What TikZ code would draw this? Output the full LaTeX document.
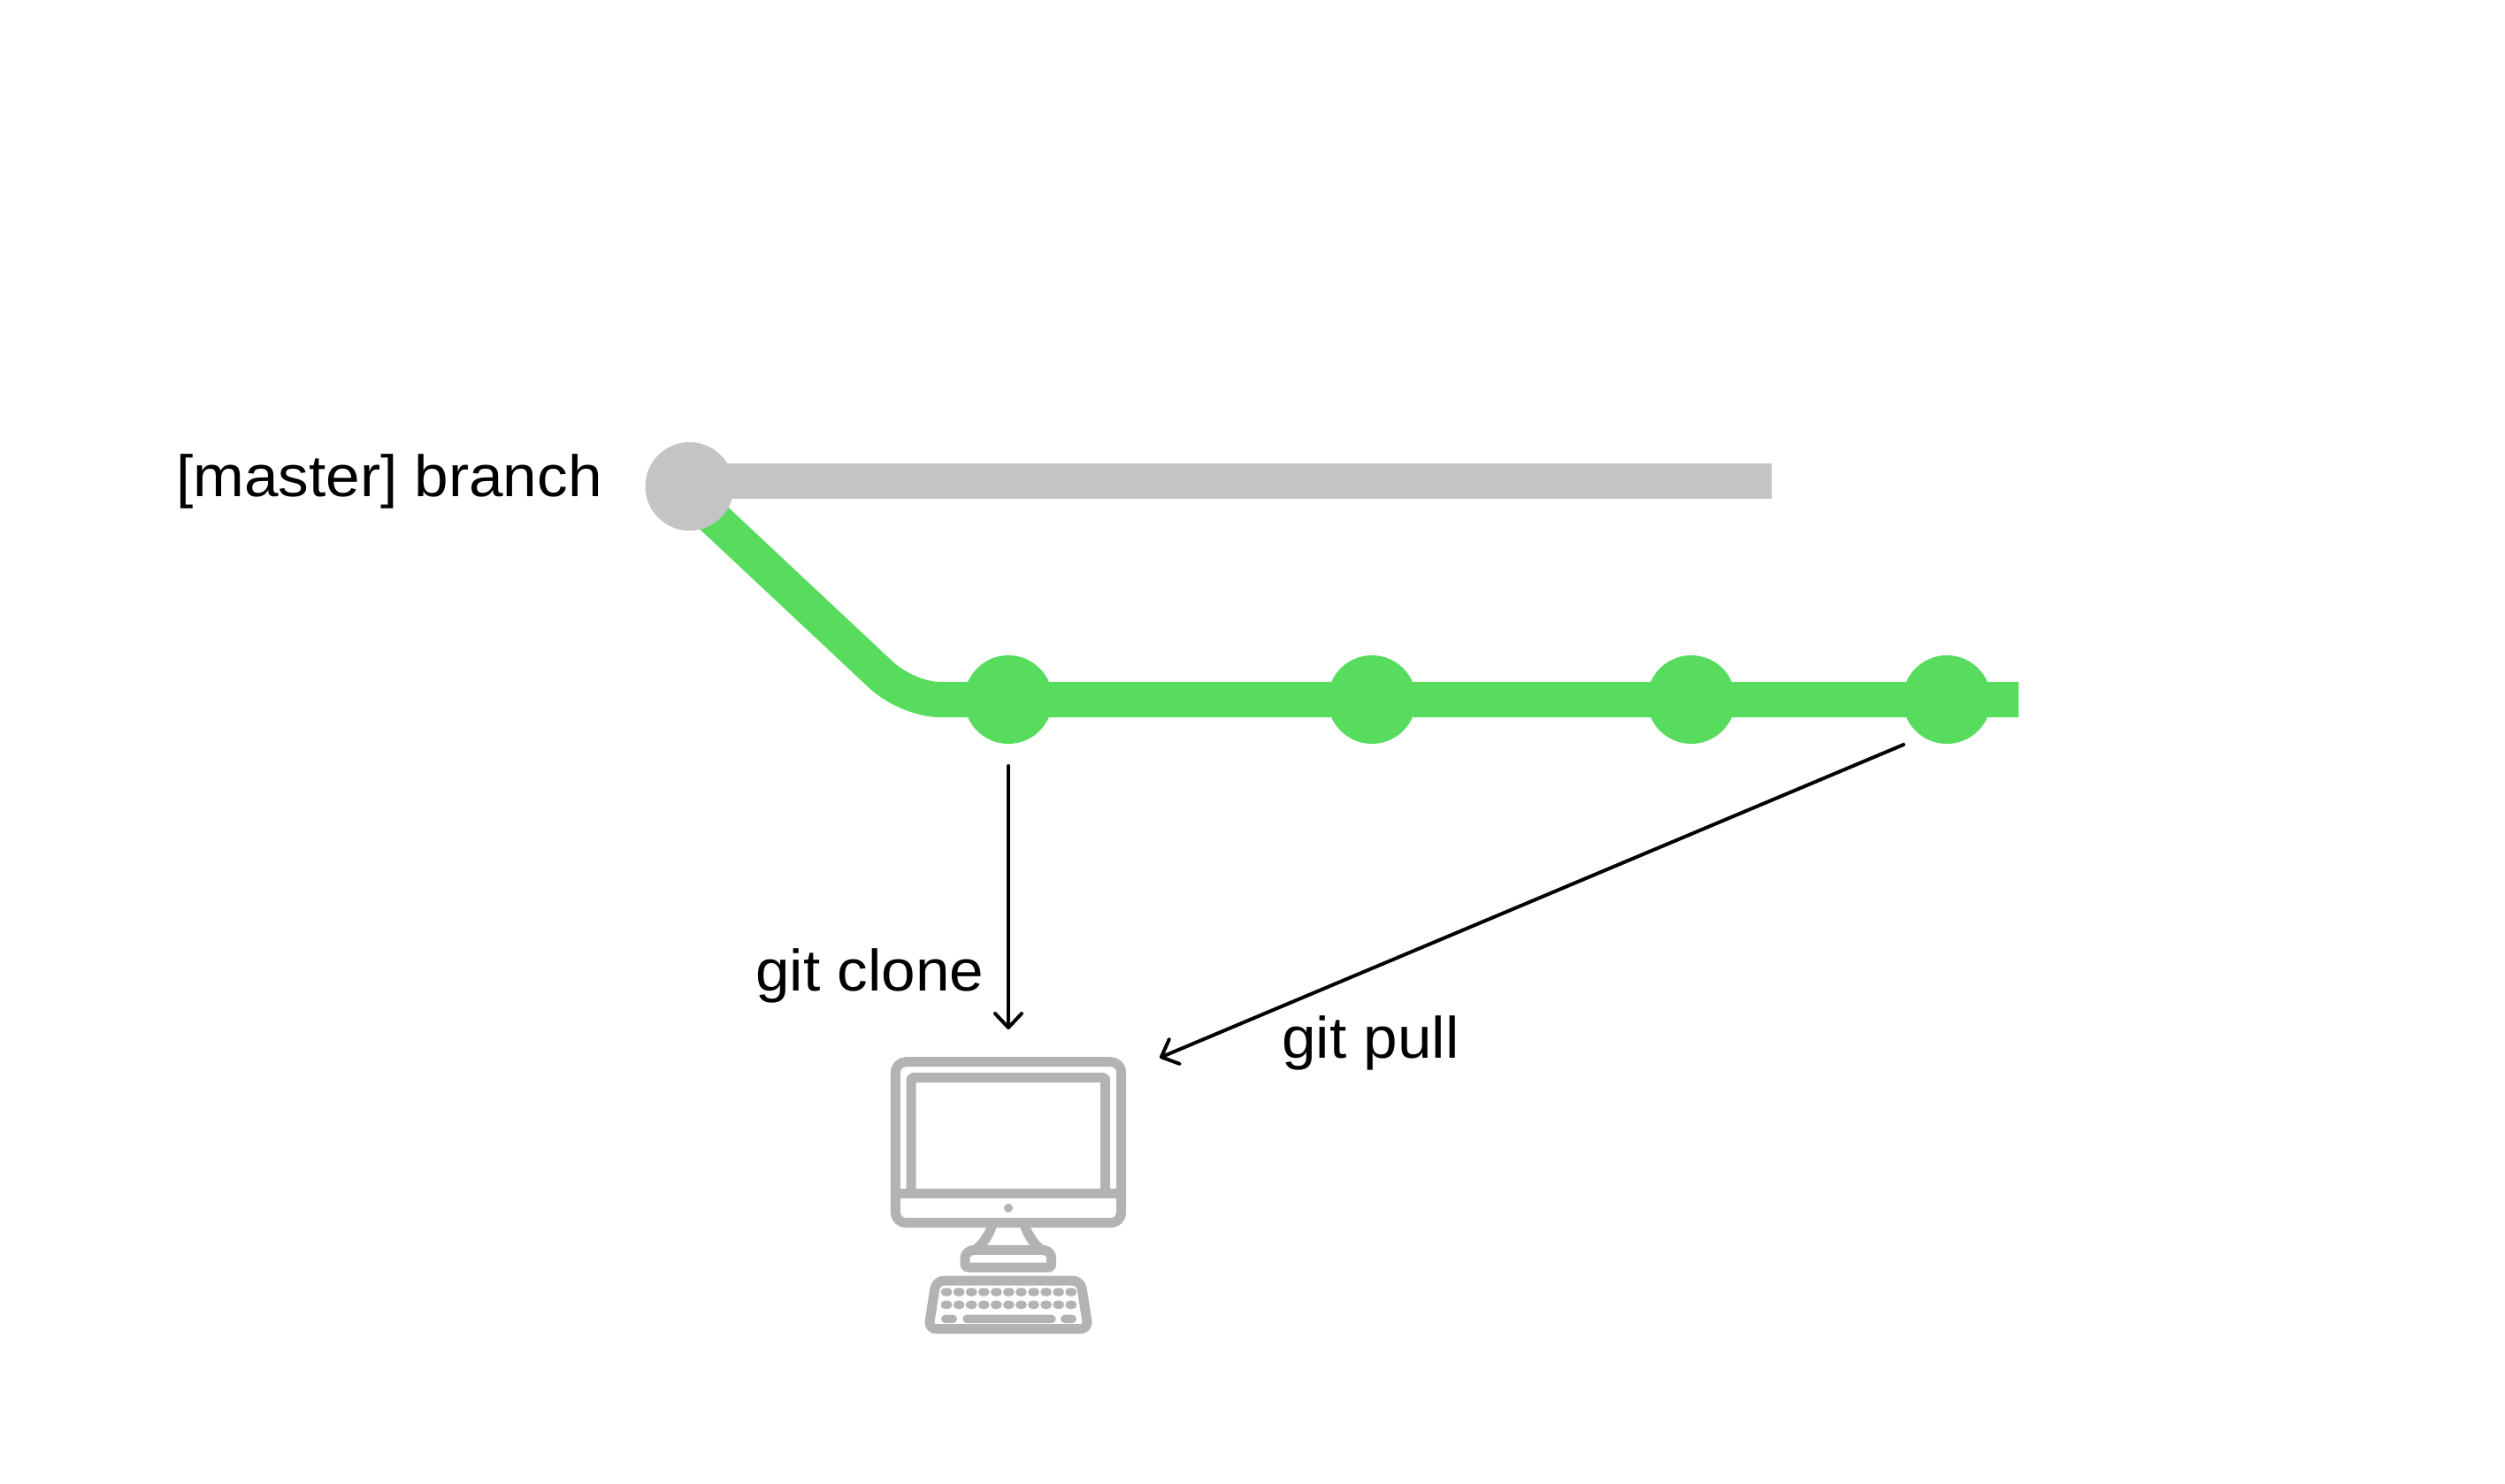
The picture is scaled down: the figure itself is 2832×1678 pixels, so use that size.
\documentclass[tikz,border=0pt]{standalone}
\usepackage{fontspec}
\setmainfont[FakeStretch=1.05]{Liberation Sans}
\usetikzlibrary{arrows.meta}
\definecolor{branchgray}{HTML}{C4C4C6}
\definecolor{branchgreen}{HTML}{57DC5E}
\definecolor{icongray}{HTML}{B3B3B3}
\tikzset{
  px/.style={x=1pt,y=-1pt},
  commit/.style={circle,fill=branchgreen,minimum size=100pt,inner sep=0pt},
  origin/.style={circle,fill=branchgray,minimum size=100pt,inner sep=0pt},
  trunk/.style={line width=40pt,branchgray},
  feature/.style={line width=40pt,branchgreen},
  lab/.style={anchor=base west,inner sep=0pt,font=\fontsize{66pt}{78pt}\selectfont},
  flow/.style={line width=4pt,line cap=round,black,-{Straight Barb[length=16pt,width=30pt,line width=4pt,round]}},
  icon/.style={line width=11pt,icongray,line join=round},
  keycap/.style={fill=icongray,rounded corners=4.6pt}
}
\begin{document}
\begin{tikzpicture}[px]
\useasboundingbox[fill=white] (0,0) rectangle (2832,1678);
% named points
\coordinate (trunkstart) at (780,544);
\coordinate (trunkend) at (2003,544);
\coordinate (featstart) at (787,567);
\coordinate (bendin) at (996,763);
\coordinate (bendone) at (1012,778);
\coordinate (bendtwo) at (1040,791);
\coordinate (bendout) at (1063,791);
\coordinate (featend) at (2282,791);
\coordinate (clonetail) at (1140,866);
\coordinate (clonetip) at (1140,1164);
\coordinate (pulltail) at (2152,842);
\coordinate (pulltip) at (1311,1196);
% green branch
\draw[feature] (featstart) -- (bendin) .. controls (bendone) and (bendtwo) .. (bendout) -- (featend);
\node[commit] (c1) at (1140,791) {};
\node[commit] (c2) at (1551,791) {};
\node[commit] (c3) at (1912,791) {};
\node[commit] (c4) at (2201,791) {};
% gray branch
\draw[trunk] (trunkstart) -- (trunkend);
\node[origin] (m) at (779.5,550) {};
% labels
\node[lab] (lmaster) at (199,561.7) {[master] branch};
\node[lab] (lclone) at (854,1120) {git clone};
\node[lab] (lpull) at (1449,1196) {git pull};
% arrows
\draw[flow] (clonetail) -- (clonetip);
\draw[flow] (pulltail) -- (pulltip);
% computer icon
\begin{scope}[icon]
\draw[rounded corners=12pt] (1012.3,1200.7) rectangle (1267.7,1382.7);
\draw[rounded corners=3pt] (1030,1349.7) -- (1030,1218.3) -- (1249.7,1218.3) -- (1249.7,1349.7);
\draw (1012.3,1349.7) -- (1267.7,1349.7);
\fill (1140,1366) circle (5pt);
% stand
\fill (1116.7,1385) .. controls (1110,1398) and (1106,1404) .. (1098,1410) -- (1114,1410) .. controls (1120,1403) and (1124,1396) .. (1127.7,1385) -- cycle;
\fill (1163.3,1385) .. controls (1170,1398) and (1174,1404) .. (1182,1410) -- (1166,1410) .. controls (1160,1403) and (1156,1396) .. (1152.3,1385) -- cycle;
\draw[rounded corners=3pt] (1091,1433) -- (1188.7,1433) -- (1188.7,1425) .. controls (1188.7,1418) and (1184,1413.3) .. (1176,1413.3) -- (1104,1413.3) .. controls (1096,1413.3) and (1091,1418) .. (1091,1425) -- cycle;
% keyboard
\draw[rounded corners=9pt] (1058.3,1448) -- (1221.7,1448) -- (1230.3,1502.7) -- (1049.7,1502.7) -- cycle;
\foreach \i in {0,...,10} {
  \fill[keycap] ({1063.7+\i*14.07},1456.3) rectangle ++(12.7,9.3);
  \fill[keycap] ({1063.7+\i*14.07},1470.7) rectangle ++(12.7,9.3);
}
\fill[keycap] (1064,1486.7) rectangle (1082,1496);
\fill[keycap] (1088.3,1486.7) rectangle (1193.7,1496);
\fill[keycap] (1199,1486.7) rectangle (1217,1496);
\end{scope}
\end{tikzpicture}
\end{document}
